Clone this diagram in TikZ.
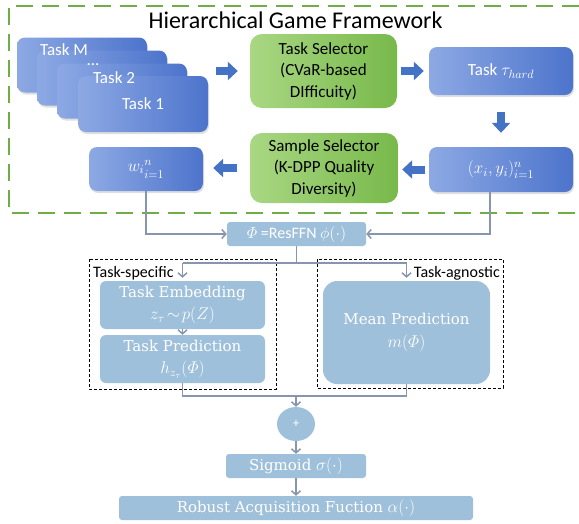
\documentclass[tikz,border=0pt]{standalone}
\usepackage{fix-cm}
\usepackage{amsmath}
\usepackage{fontspec}
\newfontfamily\calib{Carlito}
\newfontfamily\camb{DejaVu Serif}
\newcommand\mth[1]{{\fontsize{17}{20}\selectfont$#1$}}
\usetikzlibrary{arrows.meta,calc,shadows,shapes.geometric}
\definecolor{blueL}{HTML}{8DA9E4}
\definecolor{blueD}{HTML}{4D74CC}
\definecolor{greenL}{HTML}{A9D783}
\definecolor{greenD}{HTML}{78B94B}
\definecolor{steel}{HTML}{9FC0DA}
\definecolor{conncol}{HTML}{8796AE}
\definecolor{arrowblue}{HTML}{4472C4}
\definecolor{framegreen}{HTML}{70AD47}
\tikzset{
  bluebox/.style={shade, left color=blueL, right color=blueD, rounded corners=8pt, draw=none,
    text=white, inner sep=0pt, font=\calib\fontsize{17}{20}\selectfont,
    drop shadow={opacity=0.25, shadow xshift=1pt, shadow yshift=-2pt}},
  greenbox/.style={shade, left color=greenL, right color=greenD, rounded corners=12pt, draw=none,
    text=black, inner sep=0pt, align=center, font=\calib\fontsize{17}{21.5}\selectfont},
  steelbox/.style={fill=steel, rounded corners=6pt, text=white, inner sep=0pt, align=center,
    font=\camb\fontsize{15}{22.5}\selectfont},
  conn/.style={draw=conncol, line width=1.5pt},
  arr/.style={conn, -{Straight Barb[length=4pt,width=9pt]}},
  blk/.style={draw=arrowblue, line width=8pt, -{Triangle[length=10pt,width=18pt]}},
  dbox/.style={draw=black, dash pattern=on 3pt off 2pt, line width=0.9pt},
  lab/.style={inner sep=0pt, font=\calib\fontsize{16}{18}\selectfont},
  stacklab/.style={inner sep=0pt, text=white, anchor=base, font=\calib\fontsize{17}{20}\selectfont},
}
\begin{document}
\begin{tikzpicture}[x=1pt,y=-1pt]
\useasboundingbox (0,0) rectangle (579,523);
% green frame
\draw[framegreen, line width=2.5pt, dash pattern=on 17pt off 9pt] (579,6) -| (9,213) -- (579,213);
\node[anchor=base, inner sep=0pt, font=\calib\fontsize{24}{28}\selectfont] (title) at (295.5,28) {Hierarchical Game Framework};

% task stack
\node[bluebox, minimum width=130pt, minimum height=55pt] (tM) at (82,65) {};
\node[bluebox, minimum width=130pt, minimum height=55pt] (tD) at (102,78) {};
\node[bluebox, minimum width=130pt, minimum height=55pt] (t2) at (122,91) {};
\node[bluebox, minimum width=130pt, minimum height=56pt] (t1) at (143,104) {Task 1};
\node[stacklab] (lM) at (64,55) {Task M};
\node[stacklab, text height=2pt, text depth=0pt] (lD) at (93,65) {...};
\node[stacklab] (l2) at (114,83) {Task 2};

\node[greenbox, minimum width=147pt, minimum height=74pt] (ts) at (323.5,71) {Task Selector\\(CVaR-based\\DIfficuity)};
\node[bluebox, minimum width=144pt, minimum height=48pt] (tau) at (501,71) {Task $\tau_{hard}$};
\node[bluebox, minimum width=144pt, minimum height=45pt] (xy) at (501,169.5) {$(x_i,y_i)_{i=1}^{n}$};
\node[greenbox, minimum width=148pt, minimum height=70pt] (ss) at (324,168) {Sample Selector\\(K-DPP Quality\\Diversity)};
\node[bluebox, minimum width=114pt, minimum height=44pt] (w) at (146,169) {$w_{i}{}^{n}_{\raisebox{-2.5pt}{$\scriptstyle i=1$}}$};

% block arrows
\draw[blk, shorten <=8pt, shorten >=12pt] (t1.east |- ts.west) -- (ts.west);
\draw[blk, shorten <=4pt, shorten >=5pt] (ts.east) -- (ts.east -| tau.west);
\draw[blk, shorten <=17pt, shorten >=14pt] (tau.south) -- (xy.north);
\draw[blk, shorten <=4pt, shorten >=4pt] (xy.west) -- (xy.west -| ss.east);
\draw[blk, shorten <=13pt, shorten >=10pt] (ss.west) -- (ss.west -| w.east);

% lower part
\node[steelbox, rounded corners=3pt, minimum width=139pt, minimum height=24pt,
  font=\calib\fontsize{16}{18}\selectfont] (phi) at (296.5,234) {$\varPhi$ =ResFFN $\phi(\cdot)$};
\draw[arr] (w.south) |- (phi.west);
\draw[arr] ($(xy.south)+(-11,0)$) |- (phi.east);

\draw[dbox] (89,259) rectangle (276,389);
\draw[dbox] (317,259) rectangle (503,388);
\node[lab, anchor=base west] (lts) at (93,277) {Task-specific};
\node[lab, anchor=base east] (lta) at (500,277) {Task-agnostic};

\node[steelbox, minimum width=165pt, minimum height=48pt] (te) at (182.5,305) {Task Embedding\\\mth{z_\tau\!\sim\! p(Z)}};
\node[steelbox, minimum width=165pt, minimum height=48pt] (tp) at (182.5,359) {Task Prediction\\\mth{h_{z_\tau}(\varPhi)}};
\node[steelbox, rounded corners=14pt, minimum width=167pt, minimum height=103pt] (mp) at (406.5,332.5) {Mean Prediction\\\mth{m(\varPhi)}};

\draw[conn] (phi.south) -- ++(0,17) coordinate (j2);
\draw[conn] (j2 -| te.north) -- (j2 -| mp.north);
\draw[arr, shorten >=3pt] (j2 -| te.north) -- (te.north);
\draw[arr, shorten >=3pt] (j2 -| mp.north) -- (mp.north);
\draw[arr] (te.south) -- (tp.north);

\node[ellipse, fill=steel, minimum width=38pt, minimum height=34pt, inner sep=0pt, text=white,
  font=\calib\fontsize{13}{14}\selectfont] (plus) at (296,424) {+};
\node[steelbox, rounded corners=3pt, minimum width=140pt, minimum height=24pt] (sig) at (296,466) {Sigmoid \mth{\sigma(\cdot)}};
\node[steelbox, rounded corners=3pt, minimum width=354pt, minimum height=24pt] (rob) at (296,508) {Robust Acquisition Fuction \mth{\alpha(\cdot)}};

\draw[conn] (tp.south) -- ++(0,13) coordinate (j1) -- (j1 -| mp.south) -- (mp.south);
\draw[arr] (j1 -| plus.north) -- (plus.north);
\draw[arr] (plus.south) -- (sig.north);
\draw[arr] (sig.south) -- (rob.north);
\end{tikzpicture}
\end{document}
